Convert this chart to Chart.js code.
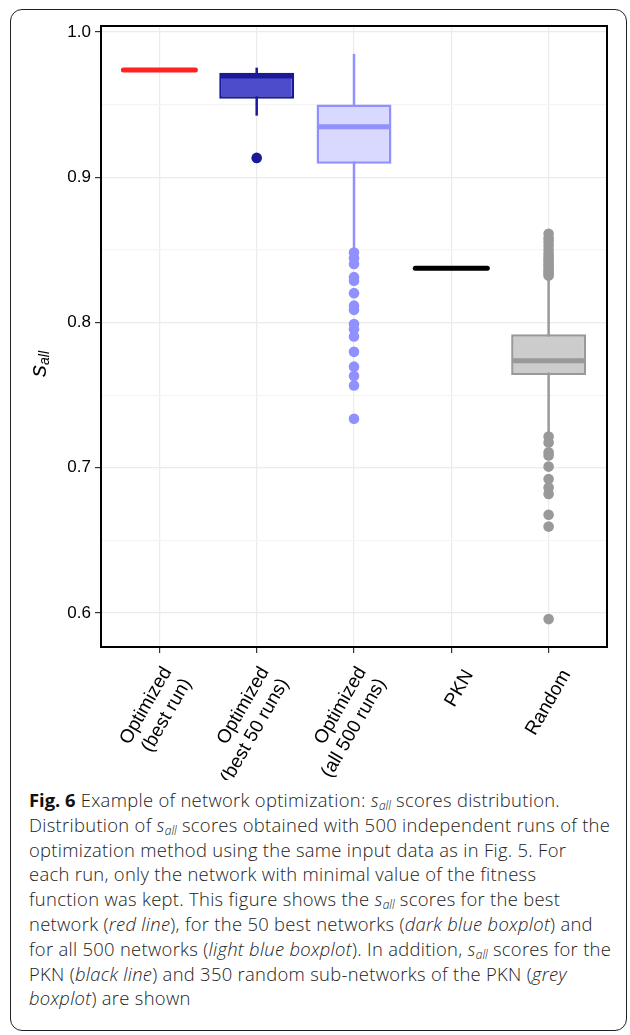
<!DOCTYPE html>
<html>
<head>
<meta charset="utf-8">
<script src="https://cdn.jsdelivr.net/npm/chart.js@4.4.1/dist/chart.umd.min.js"></script>
<style>
  html, body { margin: 0; padding: 0; background: #fff; }
  body { width: 630px; height: 1035px; position: relative; overflow: hidden; }
  #frame {
    position: absolute; left: 10px; top: 9px; width: 615px; height: 1020px;
    border: 1.5px solid #222; border-radius: 12px;
  }
  #plot { position: absolute; left: 0; top: 0; }
  #ylab {
    position: absolute; left: 18px; top: 352px; width: 40px; text-align: center;
    font: italic 24px "Liberation Sans", Arial, sans-serif; color: #000;
    transform: rotate(-90deg); transform-origin: center center; line-height: 24px;
  }
  #ylab sub { font-size: 14px; vertical-align: -3px; line-height: 0; }
  #caption {
    position: absolute; left: 29px; top: 788px; white-space: nowrap;
    font: 300 18.4px "Open Sans", sans-serif; line-height: 24.8px; color: #222;
    letter-spacing: 0.3px;
  }
  #caption b { font-weight: 700; color: #111; letter-spacing: 0; }
  #caption sub { font-size: 12px; vertical-align: -3px; line-height: 0; letter-spacing: 0; }
</style>
</head>
<body>
<div id="frame"></div>
<canvas id="plot" width="630" height="780"></canvas>
<div id="ylab">s<sub>all</sub></div>
<div id="caption"><b>Fig. 6</b> Example of network optimization: <i>s<sub>all</sub></i> scores distribution.<br>Distribution of <i>s<sub>all</sub></i> scores obtained with 500 independent runs of the<br>optimization method using the same input data as in Fig. 5. For<br>each run, only the network with minimal value of the fitness<br>function was kept. This figure shows the <i>s<sub>all</sub></i> scores for the best<br>network (<i>red line</i>), for the 50 best networks (<i>dark blue boxplot</i>) and<br>for all 500 networks (<i>light blue boxplot</i>). In addition, <i>s<sub>all</sub></i> scores for the<br>PKN (<i>black line</i>) and 350 random sub-networks of the PKN (<i>grey</i><br><i>boxplot</i>) are shown</div>
<script>
"use strict";

// ---------------- DATA ----------------
const categories = [
  ["Optimized", "(best run)"],
  ["Optimized", "(best 50 runs)"],
  ["Optimized", "(all 500 runs)"],
  ["PKN"],
  ["Random"],
];

// single-value groups drawn as a horizontal line
const lineValues = [0.9738, null, null, 0.8374, null];

// boxplot stats per group (null = no box)
const whiskerLow = [null, 0.9424, 0.851, null, 0.724];
const boxQ1 = [null, 0.9541, 0.9092, null, 0.7639];
const boxMedian = [null, 0.9697, 0.9348, null, 0.7737];
const boxQ3 = [null, 0.972, 0.95, null, 0.7919];
const whiskerHigh = [null, 0.9754, 0.9849, null, 0.8305];

const outliers = [
  [],
  [0.9133],
  [0.8481, 0.8443, 0.8403, 0.8312, 0.8288, 0.8202, 0.8116, 0.8087, 0.799,
   0.7954, 0.7903, 0.7798, 0.7696, 0.7632, 0.7566, 0.7337],
  [],
  [0.861, 0.858, 0.8557, 0.853, 0.85, 0.8475, 0.8454, 0.8435, 0.8419, 0.84,
   0.8385, 0.8365, 0.835, 0.8335, 0.8323,
   0.7215, 0.7174, 0.7107, 0.7084, 0.7008, 0.6922, 0.6864, 0.682, 0.6676,
   0.6595, 0.5958],
];

const yMajorTicks = [0.6, 0.7, 0.8, 0.9, 1.0];
const yMinorTicks = [0.65, 0.75, 0.85, 0.95];

// ---------------- STYLE ----------------
const fillColors = ["#ff2222", "#4d4dcc", "#d9d9ff", "#000000", "#cccccc"];
const lineColors = ["#ff2222", "#1a1a99", "#9090ff", "#000000", "#999999"];
const HALF = 0.37;
const fontFamily = "'Liberation Sans', Arial, sans-serif";

// ---------------- DATASETS ----------------
const datasets = [];
categories.forEach((_, i) => {
  const x = i + 1;

  if (lineValues[i] !== null) {
    datasets.push({
      type: "line",
      data: [{ x: x - HALF, y: lineValues[i] }, { x: x + HALF, y: lineValues[i] }],
      borderColor: lineColors[i],
      borderWidth: 5,
      borderCapStyle: "round",
      pointRadius: 0,
      order: 1,
    });
  }

  if (boxQ1[i] !== null) {
    // whisker
    datasets.push({
      type: "line",
      data: [{ x, y: whiskerLow[i] }, { x, y: whiskerHigh[i] }],
      borderColor: lineColors[i],
      borderWidth: 2.5,
      pointRadius: 0,
      order: 5,
    });
    // box
    datasets.push({
      type: "bar",
      data: [{ x, y: [boxQ1[i], boxQ3[i]] }],
      backgroundColor: fillColors[i],
      borderColor: lineColors[i],
      borderWidth: 2.5,
      borderSkipped: false,
      barPercentage: 0.77,
      categoryPercentage: 1,
      grouped: false,
      order: 4,
    });
    // median
    datasets.push({
      type: "line",
      data: [{ x: x - HALF, y: boxMedian[i] }, { x: x + HALF, y: boxMedian[i] }],
      borderColor: lineColors[i],
      borderWidth: 5,
      pointRadius: 0,
      order: 3,
    });
  }

  if (outliers[i].length) {
    datasets.push({
      type: "scatter",
      data: outliers[i].map((v) => ({ x, y: v })),
      backgroundColor: lineColors[i],
      borderWidth: 0,
      pointRadius: 5.3,
      order: 2,
    });
  }
});

// plot frame around chart area
const framePlugin = {
  id: "frame",
  afterDraw(chart) {
    const { ctx, chartArea: a } = chart;
    ctx.save();
    ctx.strokeStyle = "#000";
    ctx.lineWidth = 2;
    ctx.strokeRect(a.left, a.top, a.right - a.left, a.bottom - a.top);
    ctx.restore();
  },
};

const isMajor = (v) => yMajorTicks.some((t) => Math.abs(t - v) < 1e-6);
// one-line labels sit centred like the two-line ones: blank half line first
const isSingle = (i) => categories[i] && categories[i].length === 1;

new Chart(document.getElementById("plot"), {
  type: "scatter",
  data: { datasets },
  options: {
    responsive: false,
    animation: false,
    layout: { padding: { left: 0, top: 26, right: 23, bottom: 0 } },
    plugins: { legend: { display: false }, tooltip: { enabled: false } },
    scales: {
      x: {
        type: "linear",
        min: 0.4,
        max: 5.6,
        bounds: "data",
        offset: false,
        afterBuildTicks: (s) => {
          s.ticks = categories.map((_, i) => ({ value: i + 1 }));
        },
        afterFit: (s) => { s.height = 133; },
        ticks: {
          callback: (v) => {
            const lab = categories[Math.round(v) - 1];
            return lab.length === 1 ? ["", lab[0]] : lab;
          },
          autoSkip: false,
          maxRotation: 60,
          minRotation: 60,
          padding: 10,
          labelOffset: 8,
          color: "#000",
          font: (c) => ({ family: fontFamily, size: 19, lineHeight: isSingle(c.index) ? 0.6 : 1.2 }),
        },
        grid: {
          offset: false,
          color: "#ebebeb",
          lineWidth: 1.2,
          tickColor: "#333",
          tickLength: 6,
          tickWidth: 1.2,
        },
        border: { display: false },
      },
      y: {
        type: "linear",
        min: 0.5766,
        max: 1.0041,
        bounds: "data",
        afterBuildTicks: (s) => {
          s.ticks = [...yMajorTicks, ...yMinorTicks].sort((a, b) => a - b).map((v) => ({ value: v }));
        },
        afterFit: (s) => { s.width = 101; },
        ticks: {
          callback: (v) => (isMajor(v) ? v.toFixed(1) : ""),
          padding: 4,
          color: "#000",
          font: { family: fontFamily, size: 17 },
        },
        grid: {
          color: (c) => (isMajor(c.tick.value) ? "#ebebeb" : "#f5f5f5"),
          lineWidth: 1.2,
          tickColor: (c) => (isMajor(c.tick.value) ? "#333" : "rgba(0,0,0,0)"),
          tickLength: 6,
          tickWidth: 1.2,
        },
        border: { display: false },
      },
    },
  },
  plugins: [framePlugin],
});
</script>
</body>
</html>
